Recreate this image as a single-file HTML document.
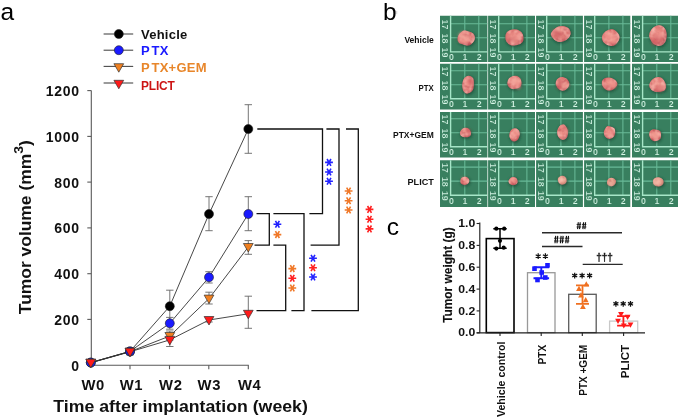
<!DOCTYPE html>
<html><head><meta charset="utf-8"><title>figure</title>
<style>html,body{margin:0;padding:0;background:#fff;}svg{display:block}</style></head>
<body><svg width="685" height="420" viewBox="0 0 685 420">
<rect width="685" height="420" fill="#fff"/>
<defs>
<filter id="bl" x="-20%" y="-20%" width="140%" height="140%"><feGaussianBlur stdDeviation="0.55"/></filter>
<filter id="bl2" x="-30%" y="-30%" width="160%" height="160%"><feGaussianBlur stdDeviation="0.9"/></filter>
<filter id="tx" x="-10%" y="-10%" width="120%" height="120%" color-interpolation-filters="sRGB">
<feTurbulence type="fractalNoise" baseFrequency="0.18" numOctaves="2" seed="3" result="n"/>
<feColorMatrix in="n" type="matrix" values="0 0 0 0 0.98  0 0 0 0 0.74  0 0 0 0 0.70  2.0 0 0 0 -0.78" result="hi"/>
<feColorMatrix in="n" type="matrix" values="0 0 0 0 0.66  0 0 0 0 0.22  0 0 0 0 0.27  0 -1.9 0 0 0.80" result="lo"/>
<feComposite in="hi" in2="SourceAlpha" operator="in" result="hi2"/>
<feComposite in="lo" in2="SourceAlpha" operator="in" result="lo2"/>
<feMerge result="m"><feMergeNode in="SourceGraphic"/><feMergeNode in="lo2"/><feMergeNode in="hi2"/></feMerge>
<feGaussianBlur in="m" stdDeviation="0.5"/>
</filter>
<radialGradient id="tg" cx="45%" cy="42%" r="60%"><stop offset="0" stop-color="#ef968c"/><stop offset="0.6" stop-color="#e07a76"/><stop offset="1" stop-color="#bb565c"/></radialGradient>
<radialGradient id="tp" cx="45%" cy="42%" r="60%"><stop offset="0" stop-color="#eeb09a"/><stop offset="0.6" stop-color="#e39a88"/><stop offset="1" stop-color="#c47a70"/></radialGradient>
<g id="tile">
<rect x="-2" y="-4" width="52" height="56" fill="#387f5e"/>
<path d="M24.8 -4V36M38.8 -4V36M10.5 -6H50M10.5 8H50M10.5 22H50" stroke="#68ba98" stroke-width="1.05" fill="none"/>
<path d="M10.6 -4V36.1H50" stroke="#a6e6c8" stroke-width="1.4" fill="none"/>
<g font-family="Liberation Sans, sans-serif" font-size="8.8" font-weight="bold" fill="#d8f6e8" stroke="#387f5e" stroke-width="0.22">
<text x="11.4" y="44.7" text-anchor="middle">0</text><text x="25" y="44.7" text-anchor="middle">1</text><text x="39.2" y="44.7" text-anchor="middle">2</text>
<text transform="translate(2.1 8.7) rotate(90)" text-anchor="middle">17</text>
<text transform="translate(2.1 22.7) rotate(90)" text-anchor="middle">18</text>
<text transform="translate(2.1 36.7) rotate(90)" text-anchor="middle">19</text>
</g>
</g>
</defs>
<g filter="url(#bl)">
<svg x="440" y="15.8" width="47.4" height="46.2" viewBox="0 0 47.4 46.2"><use href="#tile"/></svg>
<svg x="488.1" y="15.8" width="46.9" height="46.2" viewBox="0 0 46.9 46.2"><use href="#tile"/></svg>
<svg x="536.1" y="15.8" width="46.8" height="46.2" viewBox="0 0 46.8 46.2"><use href="#tile"/></svg>
<svg x="584.1" y="15.8" width="46.2" height="46.2" viewBox="0 0 46.2 46.2"><use href="#tile"/></svg>
<svg x="632" y="15.8" width="46" height="46.2" viewBox="0 0 46 46.2"><use href="#tile"/></svg>
<svg x="440" y="63.7" width="47.4" height="45.8" viewBox="0 1.0 47.4 45.8"><use href="#tile"/></svg>
<svg x="488.1" y="63.7" width="46.9" height="45.8" viewBox="0 1.0 46.9 45.8"><use href="#tile"/></svg>
<svg x="536.1" y="63.7" width="46.8" height="45.8" viewBox="0 1.0 46.8 45.8"><use href="#tile"/></svg>
<svg x="584.1" y="63.7" width="46.2" height="45.8" viewBox="0 1.0 46.2 45.8"><use href="#tile"/></svg>
<svg x="632" y="63.7" width="46" height="45.8" viewBox="0 1.0 46 45.8"><use href="#tile"/></svg>
<svg x="440" y="111.9" width="47.4" height="45.7" viewBox="0 1.2 47.4 45.7"><use href="#tile"/></svg>
<svg x="488.1" y="111.9" width="46.9" height="45.7" viewBox="0 1.2 46.9 45.7"><use href="#tile"/></svg>
<svg x="536.1" y="111.9" width="46.8" height="45.7" viewBox="0 1.2 46.8 45.7"><use href="#tile"/></svg>
<svg x="584.1" y="111.9" width="46.2" height="45.7" viewBox="0 1.2 46.2 45.7"><use href="#tile"/></svg>
<svg x="632" y="111.9" width="46" height="45.7" viewBox="0 1.2 46 45.7"><use href="#tile"/></svg>
<svg x="440" y="160.3" width="47.4" height="46.6" viewBox="0 1.2 47.4 46.6"><use href="#tile"/></svg>
<svg x="488.1" y="160.3" width="46.9" height="46.6" viewBox="0 1.2 46.9 46.6"><use href="#tile"/></svg>
<svg x="536.1" y="160.3" width="46.8" height="46.6" viewBox="0 1.2 46.8 46.6"><use href="#tile"/></svg>
<svg x="584.1" y="160.3" width="46.2" height="46.6" viewBox="0 1.2 46.2 46.6"><use href="#tile"/></svg>
<svg x="632" y="160.3" width="46" height="46.6" viewBox="0 1.2 46 46.6"><use href="#tile"/></svg>
</g>
<g filter="url(#bl2)"><path d="M474.4 40.2Q473.4 42.4 471.3 44.2Q469.3 46.0 466.5 45.4Q463.6 44.9 461.0 43.8Q458.4 42.8 457.7 40.4Q457.0 38.0 458.1 35.9Q459.3 33.8 461.3 32.0Q463.3 30.3 466.1 30.7Q468.9 31.2 471.4 32.2Q473.9 33.3 474.7 35.7Q475.4 38.0 474.4 40.2Z" transform="translate(0.6 1.0)" fill="#22523c" stroke="#22523c" stroke-width="1.6" opacity="0.75"/><path d="M523.5 39.9Q523.1 42.7 520.2 43.9Q517.3 45.0 514.4 45.4Q511.4 45.8 508.8 44.2Q506.3 42.5 505.6 39.8Q505.0 37.0 505.7 34.3Q506.4 31.6 509.1 30.4Q511.8 29.3 514.5 29.3Q517.2 29.3 519.6 30.7Q521.9 32.0 522.9 34.5Q523.9 37.0 523.5 39.9Z" transform="translate(0.6 1.0)" fill="#22523c" stroke="#22523c" stroke-width="1.6" opacity="0.75"/><path d="M569.8 36.2Q568.5 38.4 566.3 39.9Q564.0 41.4 560.8 41.9Q557.6 42.5 555.3 40.6Q553.0 38.7 551.4 36.3Q549.8 34.0 551.7 31.9Q553.7 29.7 555.7 28.0Q557.8 26.2 561.1 26.0Q564.3 25.8 567.1 27.3Q569.8 28.9 570.5 31.4Q571.1 34.0 569.8 36.2Z" transform="translate(0.6 1.0)" fill="#22523c" stroke="#22523c" stroke-width="1.6" opacity="0.75"/><path d="M619.0 39.9Q617.6 42.4 615.6 44.4Q613.6 46.5 610.7 46.0Q607.8 45.4 605.4 44.0Q603.0 42.7 602.2 40.1Q601.4 37.5 602.5 35.1Q603.6 32.8 605.7 31.3Q607.8 29.8 610.7 29.3Q613.5 28.9 615.6 30.7Q617.7 32.6 619.1 35.0Q620.4 37.5 619.0 39.9Z" transform="translate(0.6 1.0)" fill="#22523c" stroke="#22523c" stroke-width="1.6" opacity="0.75"/><path d="M666.4 39.1Q665.7 42.2 663.4 44.3Q661.0 46.3 658.1 45.9Q655.2 45.5 653.2 43.5Q651.2 41.5 649.9 38.7Q648.6 36.0 649.5 33.0Q650.5 30.0 652.7 27.9Q655.0 25.8 658.1 25.3Q661.3 24.8 663.7 27.1Q666.1 29.5 666.5 32.7Q667.0 36.0 666.4 39.1Z" transform="translate(0.6 1.0)" fill="#22523c" stroke="#22523c" stroke-width="1.6" opacity="0.75"/><path d="M473.7 87.2Q473.4 89.9 471.7 91.6Q470.0 93.2 467.9 93.6Q465.8 94.1 464.1 92.0Q462.5 90.0 462.3 87.2Q462.1 84.5 462.6 82.0Q463.1 79.5 464.5 77.8Q466.0 76.1 468.1 75.8Q470.1 75.6 472.0 77.1Q473.9 78.6 473.9 81.5Q473.9 84.5 473.7 87.2Z" transform="translate(0.6 1.0)" fill="#22523c" stroke="#22523c" stroke-width="1.6" opacity="0.75"/><path d="M521.3 84.7Q521.0 86.8 519.0 87.8Q517.0 88.7 514.9 89.1Q512.7 89.5 510.6 88.4Q508.4 87.3 507.7 84.9Q507.0 82.5 507.9 80.2Q508.8 78.0 510.8 77.0Q512.9 75.9 515.0 75.8Q517.2 75.8 518.8 77.1Q520.5 78.5 521.1 80.5Q521.7 82.5 521.3 84.7Z" transform="translate(0.6 1.0)" fill="#22523c" stroke="#22523c" stroke-width="1.6" opacity="0.75"/><path d="M569.0 85.6Q568.4 87.5 566.8 89.0Q565.3 90.5 562.9 90.7Q560.6 90.9 559.0 89.3Q557.4 87.7 556.3 85.7Q555.2 83.8 555.9 81.5Q556.6 79.3 558.6 77.9Q560.6 76.6 562.8 77.0Q565.1 77.5 566.7 78.7Q568.3 80.0 569.0 81.9Q569.7 83.8 569.0 85.6Z" transform="translate(0.6 1.0)" fill="#22523c" stroke="#22523c" stroke-width="1.6" opacity="0.75"/><path d="M617.0 85.6Q615.8 87.5 614.0 88.9Q612.2 90.4 609.4 90.6Q606.7 90.7 604.9 89.1Q603.1 87.5 602.4 85.6Q601.6 83.8 601.9 81.6Q602.3 79.5 604.6 78.3Q606.9 77.2 609.3 77.6Q611.8 78.0 613.6 79.1Q615.5 80.2 616.8 82.0Q618.1 83.8 617.0 85.6Z" transform="translate(0.6 1.0)" fill="#22523c" stroke="#22523c" stroke-width="1.6" opacity="0.75"/><path d="M666.0 87.6Q665.8 90.2 663.1 91.0Q660.4 91.8 657.9 92.0Q655.5 92.2 653.2 91.0Q650.8 89.8 649.7 87.4Q648.6 85.0 649.9 82.7Q651.1 80.4 653.2 78.8Q655.2 77.2 658.1 77.0Q660.9 76.7 662.7 78.7Q664.4 80.8 665.3 82.9Q666.2 85.0 666.0 87.6Z" transform="translate(0.6 1.0)" fill="#22523c" stroke="#22523c" stroke-width="1.6" opacity="0.75"/><path d="M471.0 134.5Q470.8 136.1 469.1 136.7Q467.5 137.4 465.8 137.3Q464.1 137.3 462.4 136.7Q460.6 136.1 460.1 134.5Q459.6 133.0 460.3 131.5Q460.9 130.0 462.3 129.0Q463.8 127.9 465.8 127.8Q467.8 127.8 469.0 129.1Q470.1 130.3 470.7 131.7Q471.3 133.0 471.0 134.5Z" transform="translate(0.6 1.0)" fill="#22523c" stroke="#22523c" stroke-width="1.6" opacity="0.75"/><path d="M519.2 136.8Q518.8 138.7 517.5 140.0Q516.2 141.3 514.4 141.5Q512.7 141.7 511.3 140.3Q510.0 138.9 509.6 136.9Q509.3 135.0 509.6 133.1Q510.0 131.1 511.3 129.7Q512.6 128.2 514.5 128.2Q516.4 128.1 517.9 129.4Q519.5 130.7 519.6 132.9Q519.7 135.0 519.2 136.8Z" transform="translate(0.6 1.0)" fill="#22523c" stroke="#22523c" stroke-width="1.6" opacity="0.75"/><path d="M567.9 134.5Q567.7 136.9 566.1 138.6Q564.6 140.2 562.6 140.0Q560.6 139.7 559.2 138.1Q557.8 136.5 557.3 134.2Q556.8 132.0 557.4 129.9Q558.0 127.8 559.3 126.2Q560.6 124.6 562.6 124.4Q564.5 124.1 565.7 126.0Q566.9 127.8 567.5 129.9Q568.0 132.0 567.9 134.5Z" transform="translate(0.6 1.0)" fill="#22523c" stroke="#22523c" stroke-width="1.6" opacity="0.75"/><path d="M614.8 134.4Q614.2 136.2 612.8 137.4Q611.4 138.7 609.4 138.9Q607.5 139.0 606.1 137.6Q604.7 136.3 604.1 134.4Q603.4 132.5 604.1 130.7Q604.8 128.8 606.1 127.2Q607.4 125.6 609.3 126.2Q611.2 126.8 613.0 127.5Q614.9 128.3 615.1 130.4Q615.4 132.5 614.8 134.4Z" transform="translate(0.6 1.0)" fill="#22523c" stroke="#22523c" stroke-width="1.6" opacity="0.75"/><path d="M660.9 137.0Q660.8 139.1 659.0 140.1Q657.1 141.1 655.0 141.2Q652.9 141.3 651.5 139.8Q650.2 138.3 649.7 136.7Q649.1 135.0 649.3 133.1Q649.4 131.1 651.2 130.1Q653.0 129.1 654.9 129.4Q656.8 129.6 658.8 130.3Q660.9 130.9 660.9 132.9Q661.0 135.0 660.9 137.0Z" transform="translate(0.6 1.0)" fill="#22523c" stroke="#22523c" stroke-width="1.6" opacity="0.75"/><path d="M469.1 182.0Q468.8 183.2 467.6 184.1Q466.5 184.9 465.0 184.9Q463.5 184.9 462.1 184.2Q460.7 183.6 460.4 182.2Q460.2 180.8 460.6 179.4Q460.9 178.1 462.2 177.4Q463.6 176.8 465.0 176.7Q466.5 176.6 467.6 177.5Q468.6 178.4 469.1 179.6Q469.5 180.8 469.1 182.0Z" transform="translate(0.6 1.0)" fill="#22523c" stroke="#22523c" stroke-width="1.6" opacity="0.75"/><path d="M517.5 182.6Q517.2 184.0 515.9 184.6Q514.6 185.2 513.2 185.3Q511.8 185.3 510.6 184.6Q509.4 183.9 508.8 182.6Q508.2 181.2 508.9 180.0Q509.7 178.8 510.7 177.8Q511.7 176.8 513.2 176.9Q514.7 177.0 515.9 177.8Q517.0 178.6 517.4 179.9Q517.8 181.2 517.5 182.6Z" transform="translate(0.6 1.0)" fill="#22523c" stroke="#22523c" stroke-width="1.6" opacity="0.75"/><path d="M566.6 181.6Q566.3 183.1 564.9 183.9Q563.5 184.7 562.0 184.7Q560.4 184.8 559.5 183.6Q558.5 182.5 558.1 181.3Q557.6 180.0 557.9 178.7Q558.3 177.3 559.5 176.7Q560.7 176.0 562.1 175.8Q563.4 175.6 564.6 176.4Q565.7 177.3 566.3 178.6Q566.8 180.0 566.6 181.6Z" transform="translate(0.6 1.0)" fill="#22523c" stroke="#22523c" stroke-width="1.6" opacity="0.75"/><path d="M615.6 183.2Q614.9 184.5 613.8 185.4Q612.7 186.3 611.3 186.2Q609.8 186.1 608.6 185.4Q607.3 184.8 607.0 183.4Q606.8 182.0 607.2 180.8Q607.6 179.5 608.7 178.6Q609.8 177.7 611.2 177.7Q612.7 177.7 614.1 178.4Q615.4 179.1 615.9 180.6Q616.3 182.0 615.6 183.2Z" transform="translate(0.6 1.0)" fill="#22523c" stroke="#22523c" stroke-width="1.6" opacity="0.75"/><path d="M663.4 183.5Q662.8 185.0 661.3 185.8Q659.9 186.6 658.3 186.5Q656.6 186.5 655.2 185.7Q653.8 185.0 653.3 183.5Q652.9 182.0 653.2 180.5Q653.5 178.9 655.0 178.0Q656.5 177.2 658.2 177.3Q659.9 177.4 661.4 178.2Q662.9 179.0 663.4 180.5Q664.0 182.0 663.4 183.5Z" transform="translate(0.6 1.0)" fill="#22523c" stroke="#22523c" stroke-width="1.6" opacity="0.75"/></g>
<g filter="url(#tx)"><path d="M474.4 40.2Q473.4 42.4 471.3 44.2Q469.3 46.0 466.5 45.4Q463.6 44.9 461.0 43.8Q458.4 42.8 457.7 40.4Q457.0 38.0 458.1 35.9Q459.3 33.8 461.3 32.0Q463.3 30.3 466.1 30.7Q468.9 31.2 471.4 32.2Q473.9 33.3 474.7 35.7Q475.4 38.0 474.4 40.2Z" fill="url(#tg)"/><path d="M523.5 39.9Q523.1 42.7 520.2 43.9Q517.3 45.0 514.4 45.4Q511.4 45.8 508.8 44.2Q506.3 42.5 505.6 39.8Q505.0 37.0 505.7 34.3Q506.4 31.6 509.1 30.4Q511.8 29.3 514.5 29.3Q517.2 29.3 519.6 30.7Q521.9 32.0 522.9 34.5Q523.9 37.0 523.5 39.9Z" fill="url(#tg)"/><path d="M569.8 36.2Q568.5 38.4 566.3 39.9Q564.0 41.4 560.8 41.9Q557.6 42.5 555.3 40.6Q553.0 38.7 551.4 36.3Q549.8 34.0 551.7 31.9Q553.7 29.7 555.7 28.0Q557.8 26.2 561.1 26.0Q564.3 25.8 567.1 27.3Q569.8 28.9 570.5 31.4Q571.1 34.0 569.8 36.2Z" fill="url(#tg)"/><path d="M619.0 39.9Q617.6 42.4 615.6 44.4Q613.6 46.5 610.7 46.0Q607.8 45.4 605.4 44.0Q603.0 42.7 602.2 40.1Q601.4 37.5 602.5 35.1Q603.6 32.8 605.7 31.3Q607.8 29.8 610.7 29.3Q613.5 28.9 615.6 30.7Q617.7 32.6 619.1 35.0Q620.4 37.5 619.0 39.9Z" fill="url(#tg)"/><path d="M666.4 39.1Q665.7 42.2 663.4 44.3Q661.0 46.3 658.1 45.9Q655.2 45.5 653.2 43.5Q651.2 41.5 649.9 38.7Q648.6 36.0 649.5 33.0Q650.5 30.0 652.7 27.9Q655.0 25.8 658.1 25.3Q661.3 24.8 663.7 27.1Q666.1 29.5 666.5 32.7Q667.0 36.0 666.4 39.1Z" fill="url(#tg)"/><path d="M473.7 87.2Q473.4 89.9 471.7 91.6Q470.0 93.2 467.9 93.6Q465.8 94.1 464.1 92.0Q462.5 90.0 462.3 87.2Q462.1 84.5 462.6 82.0Q463.1 79.5 464.5 77.8Q466.0 76.1 468.1 75.8Q470.1 75.6 472.0 77.1Q473.9 78.6 473.9 81.5Q473.9 84.5 473.7 87.2Z" fill="url(#tg)"/><path d="M521.3 84.7Q521.0 86.8 519.0 87.8Q517.0 88.7 514.9 89.1Q512.7 89.5 510.6 88.4Q508.4 87.3 507.7 84.9Q507.0 82.5 507.9 80.2Q508.8 78.0 510.8 77.0Q512.9 75.9 515.0 75.8Q517.2 75.8 518.8 77.1Q520.5 78.5 521.1 80.5Q521.7 82.5 521.3 84.7Z" fill="url(#tg)"/><path d="M569.0 85.6Q568.4 87.5 566.8 89.0Q565.3 90.5 562.9 90.7Q560.6 90.9 559.0 89.3Q557.4 87.7 556.3 85.7Q555.2 83.8 555.9 81.5Q556.6 79.3 558.6 77.9Q560.6 76.6 562.8 77.0Q565.1 77.5 566.7 78.7Q568.3 80.0 569.0 81.9Q569.7 83.8 569.0 85.6Z" fill="url(#tg)"/><path d="M617.0 85.6Q615.8 87.5 614.0 88.9Q612.2 90.4 609.4 90.6Q606.7 90.7 604.9 89.1Q603.1 87.5 602.4 85.6Q601.6 83.8 601.9 81.6Q602.3 79.5 604.6 78.3Q606.9 77.2 609.3 77.6Q611.8 78.0 613.6 79.1Q615.5 80.2 616.8 82.0Q618.1 83.8 617.0 85.6Z" fill="url(#tg)"/><path d="M666.0 87.6Q665.8 90.2 663.1 91.0Q660.4 91.8 657.9 92.0Q655.5 92.2 653.2 91.0Q650.8 89.8 649.7 87.4Q648.6 85.0 649.9 82.7Q651.1 80.4 653.2 78.8Q655.2 77.2 658.1 77.0Q660.9 76.7 662.7 78.7Q664.4 80.8 665.3 82.9Q666.2 85.0 666.0 87.6Z" fill="url(#tg)"/><path d="M471.0 134.5Q470.8 136.1 469.1 136.7Q467.5 137.4 465.8 137.3Q464.1 137.3 462.4 136.7Q460.6 136.1 460.1 134.5Q459.6 133.0 460.3 131.5Q460.9 130.0 462.3 129.0Q463.8 127.9 465.8 127.8Q467.8 127.8 469.0 129.1Q470.1 130.3 470.7 131.7Q471.3 133.0 471.0 134.5Z" fill="url(#tg)"/><path d="M519.2 136.8Q518.8 138.7 517.5 140.0Q516.2 141.3 514.4 141.5Q512.7 141.7 511.3 140.3Q510.0 138.9 509.6 136.9Q509.3 135.0 509.6 133.1Q510.0 131.1 511.3 129.7Q512.6 128.2 514.5 128.2Q516.4 128.1 517.9 129.4Q519.5 130.7 519.6 132.9Q519.7 135.0 519.2 136.8Z" fill="url(#tg)"/><path d="M567.9 134.5Q567.7 136.9 566.1 138.6Q564.6 140.2 562.6 140.0Q560.6 139.7 559.2 138.1Q557.8 136.5 557.3 134.2Q556.8 132.0 557.4 129.9Q558.0 127.8 559.3 126.2Q560.6 124.6 562.6 124.4Q564.5 124.1 565.7 126.0Q566.9 127.8 567.5 129.9Q568.0 132.0 567.9 134.5Z" fill="url(#tg)"/><path d="M614.8 134.4Q614.2 136.2 612.8 137.4Q611.4 138.7 609.4 138.9Q607.5 139.0 606.1 137.6Q604.7 136.3 604.1 134.4Q603.4 132.5 604.1 130.7Q604.8 128.8 606.1 127.2Q607.4 125.6 609.3 126.2Q611.2 126.8 613.0 127.5Q614.9 128.3 615.1 130.4Q615.4 132.5 614.8 134.4Z" fill="url(#tg)"/><path d="M660.9 137.0Q660.8 139.1 659.0 140.1Q657.1 141.1 655.0 141.2Q652.9 141.3 651.5 139.8Q650.2 138.3 649.7 136.7Q649.1 135.0 649.3 133.1Q649.4 131.1 651.2 130.1Q653.0 129.1 654.9 129.4Q656.8 129.6 658.8 130.3Q660.9 130.9 660.9 132.9Q661.0 135.0 660.9 137.0Z" fill="url(#tg)"/><path d="M469.1 182.0Q468.8 183.2 467.6 184.1Q466.5 184.9 465.0 184.9Q463.5 184.9 462.1 184.2Q460.7 183.6 460.4 182.2Q460.2 180.8 460.6 179.4Q460.9 178.1 462.2 177.4Q463.6 176.8 465.0 176.7Q466.5 176.6 467.6 177.5Q468.6 178.4 469.1 179.6Q469.5 180.8 469.1 182.0Z" fill="url(#tg)"/><path d="M517.5 182.6Q517.2 184.0 515.9 184.6Q514.6 185.2 513.2 185.3Q511.8 185.3 510.6 184.6Q509.4 183.9 508.8 182.6Q508.2 181.2 508.9 180.0Q509.7 178.8 510.7 177.8Q511.7 176.8 513.2 176.9Q514.7 177.0 515.9 177.8Q517.0 178.6 517.4 179.9Q517.8 181.2 517.5 182.6Z" fill="url(#tg)"/><path d="M566.6 181.6Q566.3 183.1 564.9 183.9Q563.5 184.7 562.0 184.7Q560.4 184.8 559.5 183.6Q558.5 182.5 558.1 181.3Q557.6 180.0 557.9 178.7Q558.3 177.3 559.5 176.7Q560.7 176.0 562.1 175.8Q563.4 175.6 564.6 176.4Q565.7 177.3 566.3 178.6Q566.8 180.0 566.6 181.6Z" fill="url(#tp)"/><path d="M615.6 183.2Q614.9 184.5 613.8 185.4Q612.7 186.3 611.3 186.2Q609.8 186.1 608.6 185.4Q607.3 184.8 607.0 183.4Q606.8 182.0 607.2 180.8Q607.6 179.5 608.7 178.6Q609.8 177.7 611.2 177.7Q612.7 177.7 614.1 178.4Q615.4 179.1 615.9 180.6Q616.3 182.0 615.6 183.2Z" fill="url(#tp)"/><path d="M663.4 183.5Q662.8 185.0 661.3 185.8Q659.9 186.6 658.3 186.5Q656.6 186.5 655.2 185.7Q653.8 185.0 653.3 183.5Q652.9 182.0 653.2 180.5Q653.5 178.9 655.0 178.0Q656.5 177.2 658.2 177.3Q659.9 177.4 661.4 178.2Q662.9 179.0 663.4 180.5Q664.0 182.0 663.4 183.5Z" fill="url(#tp)"/></g>
<g filter="url(#bl2)"><ellipse cx="462.2" cy="34.7" rx="4.4" ry="3.2" fill="#f2a096" opacity="0.55" transform="rotate(-32 462.2 34.7)"/><ellipse cx="467.5" cy="38.7" rx="3.6" ry="2.9" fill="#f2a096" opacity="0.55" transform="rotate(-32 467.5 38.7)"/><ellipse cx="461.9" cy="40.9" rx="4.1" ry="2.2" fill="#f2a096" opacity="0.55" transform="rotate(13 461.9 40.9)"/><ellipse cx="516.3" cy="36.3" rx="4.2" ry="3.2" fill="#f0948c" opacity="0.55" transform="rotate(-14 516.3 36.3)"/><ellipse cx="512.5" cy="39.6" rx="5.1" ry="2.6" fill="#c9545a" opacity="0.55" transform="rotate(-22 512.5 39.6)"/><ellipse cx="514.7" cy="40.4" rx="5.2" ry="2.7" fill="#f2a096" opacity="0.55" transform="rotate(-45 514.7 40.4)"/><ellipse cx="559.4" cy="32.8" rx="4.8" ry="3.2" fill="#f2a096" opacity="0.55" transform="rotate(47 559.4 32.8)"/><ellipse cx="556.9" cy="32.2" rx="5.3" ry="2.0" fill="#c9545a" opacity="0.55" transform="rotate(29 556.9 32.2)"/><ellipse cx="559.1" cy="34.6" rx="5.2" ry="2.6" fill="#c9545a" opacity="0.55" transform="rotate(-11 559.1 34.6)"/><ellipse cx="614.3" cy="37.5" rx="3.6" ry="2.7" fill="#f0948c" opacity="0.55" transform="rotate(53 614.3 37.5)"/><ellipse cx="607.2" cy="36.9" rx="4.4" ry="3.2" fill="#f0948c" opacity="0.55" transform="rotate(27 607.2 36.9)"/><ellipse cx="614.0" cy="41.4" rx="3.6" ry="2.3" fill="#f2a096" opacity="0.55" transform="rotate(24 614.0 41.4)"/><ellipse cx="658.1" cy="37.2" rx="5.0" ry="2.6" fill="#c9545a" opacity="0.55" transform="rotate(42 658.1 37.2)"/><ellipse cx="658.6" cy="34.9" rx="4.3" ry="3.5" fill="#f0948c" opacity="0.55" transform="rotate(-53 658.6 34.9)"/><ellipse cx="655.1" cy="41.1" rx="4.4" ry="2.8" fill="#c9545a" opacity="0.55" transform="rotate(-54 655.1 41.1)"/><ellipse cx="468.7" cy="84.3" rx="2.5" ry="3.0" fill="#f0948c" opacity="0.55" transform="rotate(1 468.7 84.3)"/><ellipse cx="467.9" cy="80.8" rx="2.5" ry="2.8" fill="#f0948c" opacity="0.55" transform="rotate(1 467.9 80.8)"/><ellipse cx="470.1" cy="81.5" rx="2.4" ry="3.9" fill="#c9545a" opacity="0.55" transform="rotate(-14 470.1 81.5)"/><ellipse cx="517.0" cy="82.7" rx="4.0" ry="2.2" fill="#f2a096" opacity="0.55" transform="rotate(18 517.0 82.7)"/><ellipse cx="517.3" cy="86.0" rx="4.1" ry="2.9" fill="#f0948c" opacity="0.55" transform="rotate(34 517.3 86.0)"/><ellipse cx="517.2" cy="80.3" rx="3.5" ry="2.8" fill="#f2a096" opacity="0.55" transform="rotate(41 517.2 80.3)"/><ellipse cx="561.1" cy="81.7" rx="2.9" ry="2.5" fill="#c9545a" opacity="0.55" transform="rotate(47 561.1 81.7)"/><ellipse cx="559.5" cy="86.5" rx="3.1" ry="2.5" fill="#c9545a" opacity="0.55" transform="rotate(-45 559.5 86.5)"/><ellipse cx="565.9" cy="85.7" rx="3.8" ry="2.3" fill="#f2a096" opacity="0.55" transform="rotate(-5 565.9 85.7)"/><ellipse cx="606.7" cy="86.4" rx="4.4" ry="1.8" fill="#c9545a" opacity="0.55" transform="rotate(0 606.7 86.4)"/><ellipse cx="610.8" cy="82.8" rx="3.9" ry="1.7" fill="#f2a096" opacity="0.55" transform="rotate(42 610.8 82.8)"/><ellipse cx="613.3" cy="84.7" rx="3.9" ry="2.8" fill="#f0948c" opacity="0.55" transform="rotate(51 613.3 84.7)"/><ellipse cx="660.1" cy="88.2" rx="4.5" ry="3.2" fill="#c9545a" opacity="0.55" transform="rotate(-7 660.1 88.2)"/><ellipse cx="660.9" cy="88.0" rx="3.4" ry="2.2" fill="#c9545a" opacity="0.55" transform="rotate(-58 660.9 88.0)"/><ellipse cx="661.3" cy="87.2" rx="4.4" ry="3.2" fill="#f2a096" opacity="0.55" transform="rotate(-38 661.3 87.2)"/><ellipse cx="463.9" cy="130.7" rx="2.3" ry="1.7" fill="#f2a096" opacity="0.55" transform="rotate(37 463.9 130.7)"/><ellipse cx="468.1" cy="130.8" rx="2.6" ry="2.2" fill="#c9545a" opacity="0.55" transform="rotate(5 468.1 130.8)"/><ellipse cx="516.7" cy="133.1" rx="2.6" ry="2.1" fill="#f0948c" opacity="0.55" transform="rotate(-4 516.7 133.1)"/><ellipse cx="513.5" cy="136.1" rx="2.5" ry="1.8" fill="#f0948c" opacity="0.55" transform="rotate(40 513.5 136.1)"/><ellipse cx="564.8" cy="129.4" rx="3.1" ry="2.2" fill="#c9545a" opacity="0.55" transform="rotate(-5 564.8 129.4)"/><ellipse cx="565.5" cy="131.3" rx="2.8" ry="2.4" fill="#f2a096" opacity="0.55" transform="rotate(32 565.5 131.3)"/><ellipse cx="607.9" cy="134.9" rx="2.3" ry="1.9" fill="#f2a096" opacity="0.55" transform="rotate(-26 607.9 134.9)"/><ellipse cx="611.0" cy="134.6" rx="3.4" ry="2.4" fill="#f0948c" opacity="0.55" transform="rotate(-9 611.0 134.6)"/><ellipse cx="655.9" cy="136.9" rx="2.5" ry="2.6" fill="#f2a096" opacity="0.55" transform="rotate(-27 655.9 136.9)"/><ellipse cx="657.4" cy="134.7" rx="2.9" ry="2.2" fill="#f0948c" opacity="0.55" transform="rotate(19 657.4 134.7)"/><ellipse cx="652.6" cy="135.2" rx="2.7" ry="1.6" fill="#f2a096" opacity="0.55" transform="rotate(-27 652.6 135.2)"/><ellipse cx="463.8" cy="178.6" rx="2.7" ry="1.6" fill="#f2a096" opacity="0.55" transform="rotate(5 463.8 178.6)"/><ellipse cx="464.9" cy="182.7" rx="1.9" ry="1.8" fill="#f0948c" opacity="0.55" transform="rotate(24 464.9 182.7)"/><ellipse cx="512.8" cy="180.6" rx="1.7" ry="1.1" fill="#f2a096" opacity="0.55" transform="rotate(20 512.8 180.6)"/><ellipse cx="514.3" cy="180.2" rx="1.8" ry="1.1" fill="#f0948c" opacity="0.55" transform="rotate(51 514.3 180.2)"/><ellipse cx="564.3" cy="179.2" rx="1.7" ry="2.0" fill="#f4c4ae" opacity="0.55" transform="rotate(-15 564.3 179.2)"/><ellipse cx="560.5" cy="179.2" rx="1.8" ry="1.4" fill="#f4c4ae" opacity="0.55" transform="rotate(-29 560.5 179.2)"/><ellipse cx="611.4" cy="183.2" rx="2.6" ry="1.8" fill="#d98e7e" opacity="0.55" transform="rotate(37 611.4 183.2)"/><ellipse cx="610.4" cy="184.3" rx="2.0" ry="1.8" fill="#f4c4ae" opacity="0.55" transform="rotate(-55 610.4 184.3)"/><ellipse cx="655.7" cy="182.9" rx="2.9" ry="1.8" fill="#f4c4ae" opacity="0.55" transform="rotate(-50 655.7 182.9)"/><ellipse cx="655.8" cy="180.3" rx="2.3" ry="1.2" fill="#d98e7e" opacity="0.55" transform="rotate(11 655.8 180.3)"/></g>
<text x="433.8" y="43.2" text-anchor="end" font-family="Liberation Sans, sans-serif" font-weight="bold" font-size="9.2" textLength="29.4" lengthAdjust="spacingAndGlyphs" fill="#111">Vehicle</text>
<text x="433.8" y="91.0" text-anchor="end" font-family="Liberation Sans, sans-serif" font-weight="bold" font-size="9.2" textLength="15.2" lengthAdjust="spacingAndGlyphs" fill="#111">PTX</text>
<text x="433.8" y="137.89999999999998" text-anchor="end" font-family="Liberation Sans, sans-serif" font-weight="bold" font-size="9.2" textLength="40.8" lengthAdjust="spacingAndGlyphs" fill="#111">PTX+GEM</text>
<text x="433.8" y="185.2" text-anchor="end" font-family="Liberation Sans, sans-serif" font-weight="bold" font-size="9.2" textLength="26.3" lengthAdjust="spacingAndGlyphs" fill="#111">PLICT</text>
<path d="M91.3 90.5V365.2H248.8" fill="none" stroke="#5a5a5a" stroke-width="1.1"/>
<path d="M87.3 365.2H91.3" stroke="#5a5a5a" stroke-width="1.1"/>
<text x="79.6" y="370.6" text-anchor="end" font-family="Liberation Sans, sans-serif" font-weight="bold" font-size="14" letter-spacing="0.65" fill="#111">0</text>
<path d="M87.3 319.4H91.3" stroke="#5a5a5a" stroke-width="1.1"/>
<text x="79.6" y="324.8" text-anchor="end" font-family="Liberation Sans, sans-serif" font-weight="bold" font-size="14" letter-spacing="0.65" fill="#111">200</text>
<path d="M87.3 273.7H91.3" stroke="#5a5a5a" stroke-width="1.1"/>
<text x="79.6" y="279.1" text-anchor="end" font-family="Liberation Sans, sans-serif" font-weight="bold" font-size="14" letter-spacing="0.65" fill="#111">400</text>
<path d="M87.3 227.9H91.3" stroke="#5a5a5a" stroke-width="1.1"/>
<text x="79.6" y="233.3" text-anchor="end" font-family="Liberation Sans, sans-serif" font-weight="bold" font-size="14" letter-spacing="0.65" fill="#111">600</text>
<path d="M87.3 182.1H91.3" stroke="#5a5a5a" stroke-width="1.1"/>
<text x="79.6" y="187.5" text-anchor="end" font-family="Liberation Sans, sans-serif" font-weight="bold" font-size="14" letter-spacing="0.65" fill="#111">800</text>
<path d="M87.3 136.4H91.3" stroke="#5a5a5a" stroke-width="1.1"/>
<text x="79.6" y="141.8" text-anchor="end" font-family="Liberation Sans, sans-serif" font-weight="bold" font-size="14" letter-spacing="0.65" fill="#111">1000</text>
<path d="M87.3 90.6H91.3" stroke="#5a5a5a" stroke-width="1.1"/>
<text x="79.6" y="96.0" text-anchor="end" font-family="Liberation Sans, sans-serif" font-weight="bold" font-size="14" letter-spacing="0.65" fill="#111">1200</text>
<text x="93.2" y="389.8" text-anchor="middle" font-family="Liberation Sans, sans-serif" font-weight="bold" font-size="14.8" letter-spacing="0.6" fill="#111">W0</text>
<path d="M130.0 365.2V369.2" stroke="#5a5a5a" stroke-width="1.1"/>
<text x="131.4" y="389.8" text-anchor="middle" font-family="Liberation Sans, sans-serif" font-weight="bold" font-size="14.8" letter-spacing="0.6" fill="#111">W1</text>
<path d="M169.5 365.2V369.2" stroke="#5a5a5a" stroke-width="1.1"/>
<text x="170.8" y="389.8" text-anchor="middle" font-family="Liberation Sans, sans-serif" font-weight="bold" font-size="14.8" letter-spacing="0.6" fill="#111">W2</text>
<path d="M208.8 365.2V369.2" stroke="#5a5a5a" stroke-width="1.1"/>
<text x="209.3" y="389.8" text-anchor="middle" font-family="Liberation Sans, sans-serif" font-weight="bold" font-size="14.8" letter-spacing="0.6" fill="#111">W3</text>
<path d="M248.3 365.2V369.2" stroke="#5a5a5a" stroke-width="1.1"/>
<text x="249.6" y="389.8" text-anchor="middle" font-family="Liberation Sans, sans-serif" font-weight="bold" font-size="14.8" letter-spacing="0.6" fill="#111">W4</text>
<text x="180.6" y="411.5" text-anchor="middle" font-family="Liberation Sans, sans-serif" font-weight="bold" font-size="16.8" textLength="254.5" lengthAdjust="spacingAndGlyphs" fill="#111">Time after implantation (week)</text>
<text transform="translate(31.3 227.2) rotate(-90)" text-anchor="middle" font-family="Liberation Sans, sans-serif" font-weight="bold" font-size="16.8" textLength="174" lengthAdjust="spacingAndGlyphs" fill="#111">Tumor volume (mm<tspan dy="-8" font-size="13.5">3</tspan><tspan dy="8">)</tspan></text>
<path d="M90.8 362.6L130 351.4L169.8 306.2L209 214L248.3 129" fill="none" stroke="#333" stroke-width="0.9"/>
<path d="M130 348V355M126.3 348H133.7M126.3 355H133.7" fill="none" stroke="#666" stroke-width="0.9"/>
<path d="M169.8 290.2V322.2M166.10000000000002 290.2H173.5M166.10000000000002 322.2H173.5" fill="none" stroke="#666" stroke-width="0.9"/>
<path d="M209 196.7V230.7M205.3 196.7H212.7M205.3 230.7H212.7" fill="none" stroke="#666" stroke-width="0.9"/>
<path d="M248.3 104.7V153.3M244.60000000000002 104.7H252.0M244.60000000000002 153.3H252.0" fill="none" stroke="#666" stroke-width="0.9"/>
<path d="M90.8 362.6L130 351.4L169.8 323.3L209 277.3L248.3 214" fill="none" stroke="#333" stroke-width="0.9"/>
<path d="M130 348.5V354.5M126.3 348.5H133.7M126.3 354.5H133.7" fill="none" stroke="#666" stroke-width="0.9"/>
<path d="M169.8 317.4V329.2M166.10000000000002 317.4H173.5M166.10000000000002 329.2H173.5" fill="none" stroke="#666" stroke-width="0.9"/>
<path d="M209 271.7V283M205.3 271.7H212.7M205.3 283H212.7" fill="none" stroke="#666" stroke-width="0.9"/>
<path d="M248.3 196.7V230.7M244.60000000000002 196.7H252.0M244.60000000000002 230.7H252.0" fill="none" stroke="#666" stroke-width="0.9"/>
<path d="M90.8 362.6L130 351.6L169.8 336L209 298.6L248.3 247" fill="none" stroke="#333" stroke-width="0.9"/>
<path d="M169.8 331V340M166.10000000000002 331H173.5M166.10000000000002 340H173.5" fill="none" stroke="#666" stroke-width="0.9"/>
<path d="M209 292.2V304M205.3 292.2H212.7M205.3 304H212.7" fill="none" stroke="#666" stroke-width="0.9"/>
<path d="M248.3 240.6V254.3M244.60000000000002 240.6H252.0M244.60000000000002 254.3H252.0" fill="none" stroke="#666" stroke-width="0.9"/>
<path d="M90.8 362.8L130 351.8L169.8 339.9L209 320L248.3 313.8" fill="none" stroke="#333" stroke-width="0.9"/>
<path d="M169.8 333.6V346.5M166.10000000000002 333.6H173.5M166.10000000000002 346.5H173.5" fill="none" stroke="#666" stroke-width="0.9"/>
<path d="M209 318V322M205.3 318H212.7M205.3 322H212.7" fill="none" stroke="#666" stroke-width="0.9"/>
<path d="M248.3 296.2V328.3M244.60000000000002 296.2H252.0M244.60000000000002 328.3H252.0" fill="none" stroke="#666" stroke-width="0.9"/>
<circle cx="90.8" cy="362.6" r="4.5" fill="#000" stroke="#222" stroke-width="0.6"/>
<circle cx="130" cy="351.4" r="4.5" fill="#000" stroke="#222" stroke-width="0.6"/>
<circle cx="169.8" cy="306.2" r="4.5" fill="#000" stroke="#222" stroke-width="0.6"/>
<circle cx="209" cy="214" r="4.5" fill="#000" stroke="#222" stroke-width="0.6"/>
<circle cx="248.3" cy="129" r="4.5" fill="#000" stroke="#222" stroke-width="0.6"/>
<circle cx="90.8" cy="362.6" r="4.5" fill="#1a1aff" stroke="#222" stroke-width="0.6"/>
<circle cx="130" cy="351.4" r="4.5" fill="#1a1aff" stroke="#222" stroke-width="0.6"/>
<circle cx="169.8" cy="323.3" r="4.5" fill="#1a1aff" stroke="#222" stroke-width="0.6"/>
<circle cx="209" cy="277.3" r="4.5" fill="#1a1aff" stroke="#222" stroke-width="0.6"/>
<circle cx="248.3" cy="214" r="4.5" fill="#1a1aff" stroke="#222" stroke-width="0.6"/>
<path d="M85.89999999999999 359.1H95.7L90.8 367.6Z" fill="#f08020" stroke="#333" stroke-width="0.7"/>
<path d="M125.1 348.1H134.9L130 356.6Z" fill="#f08020" stroke="#333" stroke-width="0.7"/>
<path d="M164.9 332.5H174.70000000000002L169.8 341.0Z" fill="#f08020" stroke="#333" stroke-width="0.7"/>
<path d="M204.1 295.1H213.9L209 303.6Z" fill="#f08020" stroke="#333" stroke-width="0.7"/>
<path d="M243.4 243.5H253.20000000000002L248.3 252.0Z" fill="#f08020" stroke="#333" stroke-width="0.7"/>
<path d="M85.89999999999999 359.3H95.7L90.8 367.8Z" fill="#ff1a1a" stroke="#333" stroke-width="0.7"/>
<path d="M125.1 348.3H134.9L130 356.8Z" fill="#ff1a1a" stroke="#333" stroke-width="0.7"/>
<path d="M164.9 336.4H174.70000000000002L169.8 344.9Z" fill="#ff1a1a" stroke="#333" stroke-width="0.7"/>
<path d="M204.1 316.5H213.9L209 325.0Z" fill="#ff1a1a" stroke="#333" stroke-width="0.7"/>
<path d="M243.4 310.3H253.20000000000002L248.3 318.8Z" fill="#ff1a1a" stroke="#333" stroke-width="0.7"/>
<path d="M103.6 34H133.2" stroke="#4a4a4a" stroke-width="1.1"/>
<circle cx="118.8" cy="34" r="4.5" fill="#000" stroke="#222" stroke-width="0.6"/>
<text x="141" y="38.6" font-family="Liberation Sans, sans-serif" font-weight="bold" font-size="13" letter-spacing="0.25" fill="#111">Vehicle</text>
<path d="M103.6 50.2H133.2" stroke="#4a4a4a" stroke-width="1.1"/>
<circle cx="118.8" cy="50.2" r="4.5" fill="#1a1aff" stroke="#222" stroke-width="0.6"/>
<text x="141" y="55.1" font-family="Liberation Sans, sans-serif" font-weight="bold" font-size="13" letter-spacing="0.25" fill="#1a1aff">P<tspan dx="1.5">T</tspan>X</text>
<path d="M103.6 66.4H133.2" stroke="#4a4a4a" stroke-width="1.1"/>
<path d="M113.89999999999999 63.7H123.7L118.8 72.2Z" fill="#f08020" stroke="#333" stroke-width="0.7"/>
<text x="141" y="72.0" font-family="Liberation Sans, sans-serif" font-weight="bold" font-size="13" letter-spacing="0.25" fill="#e8862a">P<tspan dx="1.5">T</tspan>X+GEM</text>
<path d="M103.6 83H133.2" stroke="#4a4a4a" stroke-width="1.1"/>
<path d="M113.89999999999999 80.3H123.7L118.8 88.8Z" fill="#ff1a1a" stroke="#333" stroke-width="0.7"/>
<text x="141" y="89.5" font-family="Liberation Sans, sans-serif" font-weight="bold" font-size="11.9" letter-spacing="-0.15" fill="#cc1414">PLICT</text>
<path d="M256.5 213.6H269.3V245.2H254.5" stroke="#111" stroke-width="1.3" fill="none"/>
<path d="M273.4 245.2H285.7V310.6H256.5" stroke="#111" stroke-width="1.3" fill="none"/>
<path d="M273.4 213.6H304V310.6H291.4" stroke="#111" stroke-width="1.3" fill="none"/>
<path d="M257.3 129H322.5V213.6H309.4" stroke="#111" stroke-width="1.3" fill="none"/>
<path d="M326.4 129H339V245.2H310.6" stroke="#111" stroke-width="1.3" fill="none"/>
<path d="M346 129H358.3V310.6H311.4" stroke="#111" stroke-width="1.3" fill="none"/>
<path d="M273.50 224.30L281.30 224.30M275.45 220.92L279.35 227.68M279.35 220.92L275.45 227.68" stroke="#2222ff" stroke-width="1.6" fill="none"/>
<path d="M273.50 234.60L281.30 234.60M275.45 231.22L279.35 237.98M279.35 231.22L275.45 237.98" stroke="#f07828" stroke-width="1.6" fill="none"/>
<path d="M288.40 268.60L296.20 268.60M290.35 265.22L294.25 271.98M294.25 265.22L290.35 271.98" stroke="#f07828" stroke-width="1.6" fill="none"/>
<path d="M288.40 278.20L296.20 278.20M290.35 274.82L294.25 281.58M294.25 274.82L290.35 281.58" stroke="#ff2222" stroke-width="1.6" fill="none"/>
<path d="M288.40 288.00L296.20 288.00M290.35 284.62L294.25 291.38M294.25 284.62L290.35 291.38" stroke="#f07828" stroke-width="1.6" fill="none"/>
<path d="M309.10 258.30L316.90 258.30M311.05 254.92L314.95 261.68M314.95 254.92L311.05 261.68" stroke="#2222ff" stroke-width="1.6" fill="none"/>
<path d="M309.10 267.70L316.90 267.70M311.05 264.32L314.95 271.08M314.95 264.32L311.05 271.08" stroke="#ff2222" stroke-width="1.6" fill="none"/>
<path d="M309.10 277.00L316.90 277.00M311.05 273.62L314.95 280.38M314.95 273.62L311.05 280.38" stroke="#2222ff" stroke-width="1.6" fill="none"/>
<path d="M325.10 162.40L332.90 162.40M327.05 159.02L330.95 165.78M330.95 159.02L327.05 165.78" stroke="#2222ff" stroke-width="1.6" fill="none"/>
<path d="M325.10 172.00L332.90 172.00M327.05 168.62L330.95 175.38M330.95 168.62L327.05 175.38" stroke="#2222ff" stroke-width="1.6" fill="none"/>
<path d="M325.10 181.20L332.90 181.20M327.05 177.82L330.95 184.58M330.95 177.82L327.05 184.58" stroke="#2222ff" stroke-width="1.6" fill="none"/>
<path d="M344.70 191.00L352.50 191.00M346.65 187.62L350.55 194.38M350.55 187.62L346.65 194.38" stroke="#f07828" stroke-width="1.6" fill="none"/>
<path d="M344.70 200.80L352.50 200.80M346.65 197.42L350.55 204.18M350.55 197.42L346.65 204.18" stroke="#f07828" stroke-width="1.6" fill="none"/>
<path d="M344.70 210.00L352.50 210.00M346.65 206.62L350.55 213.38M350.55 206.62L346.65 213.38" stroke="#f07828" stroke-width="1.6" fill="none"/>
<path d="M365.60 209.40L373.40 209.40M367.55 206.02L371.45 212.78M371.45 206.02L367.55 212.78" stroke="#ff2222" stroke-width="1.6" fill="none"/>
<path d="M365.60 219.30L373.40 219.30M367.55 215.92L371.45 222.68M371.45 215.92L367.55 222.68" stroke="#ff2222" stroke-width="1.6" fill="none"/>
<path d="M365.60 228.90L373.40 228.90M367.55 225.52L371.45 232.28M371.45 225.52L367.55 232.28" stroke="#ff2222" stroke-width="1.6" fill="none"/>
<text x="0.4" y="20.2" font-family="Liberation Sans, sans-serif" font-size="24.5" fill="#000">a</text>
<text x="383" y="20.2" font-family="Liberation Sans, sans-serif" font-size="24.5" fill="#000">b</text>
<rect x="396.3" y="11" width="0.9" height="3.2" fill="#d0d0d0"/>
<text x="386.8" y="234.8" font-family="Liberation Sans, sans-serif" font-size="24.5" fill="#000">c</text>
<rect x="486.3" y="238.6" width="27.7" height="94.0" fill="#fff" stroke="#000" stroke-width="1.6"/>
<rect x="527.5" y="272.7" width="27.5" height="59.9" fill="#fff" stroke="#999" stroke-width="1.3"/>
<rect x="568.7" y="294.3" width="27.5" height="38.3" fill="#fff" stroke="#5a5a5a" stroke-width="1.3"/>
<rect x="609.6" y="321.1" width="28.1" height="11.5" fill="#fff" stroke="#c8c8c8" stroke-width="1.3"/>
<path d="M479.8 222.4V332.90000000000003M476.6 332.90000000000003H645" stroke="#222" stroke-width="1.15" fill="none"/>
<path d="M476.6 332.8H479.8" stroke="#222" stroke-width="1.1"/>
<text x="475.3" y="336.4" text-anchor="end" font-family="Liberation Sans, sans-serif" font-weight="bold" font-size="10.4" textLength="17" lengthAdjust="spacingAndGlyphs" fill="#111">0.0</text>
<path d="M476.6 310.9H479.8" stroke="#222" stroke-width="1.1"/>
<text x="475.3" y="314.5" text-anchor="end" font-family="Liberation Sans, sans-serif" font-weight="bold" font-size="10.4" textLength="17" lengthAdjust="spacingAndGlyphs" fill="#111">0.2</text>
<path d="M476.6 289.1H479.8" stroke="#222" stroke-width="1.1"/>
<text x="475.3" y="292.7" text-anchor="end" font-family="Liberation Sans, sans-serif" font-weight="bold" font-size="10.4" textLength="17" lengthAdjust="spacingAndGlyphs" fill="#111">0.4</text>
<path d="M476.6 267.2H479.8" stroke="#222" stroke-width="1.1"/>
<text x="475.3" y="270.8" text-anchor="end" font-family="Liberation Sans, sans-serif" font-weight="bold" font-size="10.4" textLength="17" lengthAdjust="spacingAndGlyphs" fill="#111">0.6</text>
<path d="M476.6 245.4H479.8" stroke="#222" stroke-width="1.1"/>
<text x="475.3" y="249.0" text-anchor="end" font-family="Liberation Sans, sans-serif" font-weight="bold" font-size="10.4" textLength="17" lengthAdjust="spacingAndGlyphs" fill="#111">0.8</text>
<path d="M476.6 223.5H479.8" stroke="#222" stroke-width="1.1"/>
<text x="475.3" y="227.1" text-anchor="end" font-family="Liberation Sans, sans-serif" font-weight="bold" font-size="10.4" textLength="17" lengthAdjust="spacingAndGlyphs" fill="#111">1.0</text>
<path d="M500 332.6V336.0" stroke="#222" stroke-width="1.1"/>
<path d="M541.2 332.6V336.0" stroke="#222" stroke-width="1.1"/>
<path d="M582.3 332.6V336.0" stroke="#222" stroke-width="1.1"/>
<path d="M623.6 332.6V336.0" stroke="#222" stroke-width="1.1"/>
<text transform="translate(452.2 275.1) rotate(-90)" text-anchor="middle" font-family="Liberation Sans, sans-serif" font-weight="bold" font-size="12" stroke="#111" stroke-width="0.15" textLength="95.5" lengthAdjust="spacingAndGlyphs" fill="#111">Tumor weight (g)</text>
<text transform="translate(505.2 341.6) rotate(-90)" text-anchor="end" font-family="Liberation Sans, sans-serif" font-weight="bold" font-size="10.3" textLength="75.5" lengthAdjust="spacingAndGlyphs" fill="#111">Vehicle control</text>
<text transform="translate(545.6 344.8) rotate(-90)" text-anchor="end" font-family="Liberation Sans, sans-serif" font-weight="bold" font-size="10" textLength="19.6" lengthAdjust="spacingAndGlyphs" fill="#111">PTX</text>
<text transform="translate(586.5 344.8) rotate(-90)" text-anchor="end" font-family="Liberation Sans, sans-serif" font-weight="bold" font-size="10" textLength="51" lengthAdjust="spacingAndGlyphs" fill="#111">PTX +GEM</text>
<text transform="translate(629.4 344.8) rotate(-90)" text-anchor="end" font-family="Liberation Sans, sans-serif" font-weight="bold" font-size="11.8" textLength="33.5" lengthAdjust="spacingAndGlyphs" fill="#111">PLICT</text>
<path d="M500 228.7V248.3M493.3 228.7H506.7M493.3 248.3H506.7" stroke="#000" stroke-width="1.5" fill="none"/>
<circle cx="496.3" cy="228.7" r="2.1" fill="#000"/>
<circle cx="504.2" cy="228.7" r="2.1" fill="#000"/>
<circle cx="500" cy="240.8" r="2.1" fill="#000"/>
<circle cx="496.3" cy="248.6" r="2.1" fill="#000"/>
<circle cx="503.7" cy="247.7" r="2.1" fill="#000"/>
<path d="M541.3 267.2V278.3M533.5 267.2H549.0999999999999M533.5 278.3H549.0999999999999" stroke="#1a1aff" stroke-width="1.9" fill="none"/>
<rect x="545.2" y="263.0" width="4.6" height="4.6" fill="#1a1aff"/>
<rect x="532.2" y="266.4" width="4.6" height="4.6" fill="#1a1aff"/>
<rect x="539.4000000000001" y="270.2" width="4.6" height="4.6" fill="#1a1aff"/>
<rect x="543.0" y="275.2" width="4.6" height="4.6" fill="#1a1aff"/>
<rect x="535.2" y="277.7" width="4.6" height="4.6" fill="#1a1aff"/>
<path d="M582.5 285.3V303.8M576.0 285.3H589.0M576.0 303.8H589.0" stroke="#f07020" stroke-width="1.8" fill="none"/>
<path d="M583.4 286.5H589.1999999999999L586.3 281.3Z" fill="#f07020"/>
<path d="M576.1 290.90000000000003H581.9L579 285.70000000000005Z" fill="#f07020"/>
<path d="M578.1 297.5H583.9L581 292.3Z" fill="#f07020"/>
<path d="M582.8000000000001 302.3H588.6L585.7 297.1Z" fill="#f07020"/>
<path d="M580.0 309.0H585.8L582.9 303.8Z" fill="#f07020"/>
<path d="M623.4 316.2V325.7M617.1 316.2H629.6999999999999M617.1 325.7H629.6999999999999" stroke="#ff1a1a" stroke-width="1.8" fill="none"/>
<path d="M618.1 312.0H623.9L621 317.2Z" fill="#ff1a1a"/>
<path d="M624.7 314.7H630.5L627.6 319.9Z" fill="#ff1a1a"/>
<path d="M615.1 318.7H620.9L618 323.9Z" fill="#ff1a1a"/>
<path d="M627.6 322.5H633.4L630.5 327.7Z" fill="#ff1a1a"/>
<path d="M620.9 323.4H626.6999999999999L623.8 328.59999999999997Z" fill="#ff1a1a"/>
<path d="M542 232.8H622M542 246.5H582.5M582.7 264.4H622.7" stroke="#2a2a2a" stroke-width="1.4" fill="none"/>
<path d="M578.29 222.30L577.59 229.10M580.24 222.30L579.54 229.10M583.59 222.30L582.89 229.10M585.54 222.30L584.84 229.10" stroke="#111" stroke-width="1.15" fill="none"/><path d="M576.60 224.41H581.05M576.60 226.99H581.05M581.90 224.41H586.35M581.90 226.99H586.35" stroke="#111" stroke-width="0.85" fill="none"/>
<path d="M555.71 235.90L555.01 243.30M557.71 235.90L557.01 243.30M561.11 235.90L560.41 243.30M563.11 235.90L562.41 243.30M566.51 235.90L565.81 243.30M568.51 235.90L567.81 243.30" stroke="#111" stroke-width="1.15" fill="none"/><path d="M554.00 238.19H558.54M554.00 241.01H558.54M559.40 238.19H563.94M559.40 241.01H563.94M564.80 238.19H569.34M564.80 241.01H569.34" stroke="#111" stroke-width="0.85" fill="none"/>
<text x="604.5" y="260.6" text-anchor="middle" font-family="Liberation Sans, sans-serif" font-weight="bold" font-size="10" fill="#1a1a1a" stroke="#1a1a1a" stroke-width="0.3">†††</text>
<path d="M538.20 253.30L538.20 259.10M535.69 254.75L540.71 257.65M540.71 254.75L535.69 257.65" stroke="#111" stroke-width="1.25" fill="none"/>
<path d="M545.40 253.30L545.40 259.10M542.89 254.75L547.91 257.65M547.91 254.75L542.89 257.65" stroke="#111" stroke-width="1.25" fill="none"/>
<path d="M574.70 272.70L574.70 278.50M572.19 274.15L577.21 277.05M577.21 274.15L572.19 277.05" stroke="#111" stroke-width="1.25" fill="none"/>
<path d="M582.10 272.70L582.10 278.50M579.59 274.15L584.61 277.05M584.61 274.15L579.59 277.05" stroke="#111" stroke-width="1.25" fill="none"/>
<path d="M589.60 272.70L589.60 278.50M587.09 274.15L592.11 277.05M592.11 274.15L587.09 277.05" stroke="#111" stroke-width="1.25" fill="none"/>
<path d="M615.90 300.90L615.90 306.70M613.39 302.35L618.41 305.25M618.41 302.35L613.39 305.25" stroke="#111" stroke-width="1.25" fill="none"/>
<path d="M623.20 300.90L623.20 306.70M620.69 302.35L625.71 305.25M625.71 302.35L620.69 305.25" stroke="#111" stroke-width="1.25" fill="none"/>
<path d="M630.50 300.90L630.50 306.70M627.99 302.35L633.01 305.25M633.01 302.35L627.99 305.25" stroke="#111" stroke-width="1.25" fill="none"/>
</svg></body></html>
